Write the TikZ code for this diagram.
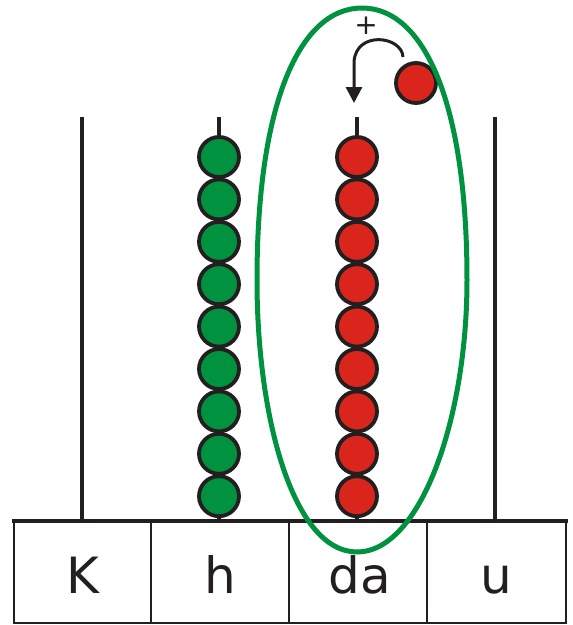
\documentclass[tikz,border=0pt]{standalone}
\usepackage{fontspec}
\setmainfont{DejaVu Sans}
\usetikzlibrary{arrows.meta}
\definecolor{beadgreen}{HTML}{00923F}
\definecolor{beadred}{HTML}{DA251D}
\definecolor{ink}{HTML}{231F20}
\begin{document}
\begin{tikzpicture}[x=1pt,y=-1pt]
\tikzset{bead/.style={circle,draw=ink,line width=3.8pt,minimum size=40pt,inner sep=0pt}}
\tikzset{rod/.style={ink,line width=4.5pt}}
\tikzset{place/.style={font=\fontsize{50}{50}\selectfont,text=ink,anchor=base}}
\useasboundingbox (0,0) rectangle (573,625);
% rods and the place value table
\foreach \x in {82,219,357,495} \draw[rod] (\x,117) -- (\x,521);
\draw[ink,line width=2.6pt] (14,521) rectangle (566,623);
\draw[ink,line width=4.5pt] (12,521) -- (568,521);
\foreach \x in {151,289,427} \draw[ink,line width=2.6pt] (\x,521) -- (\x,623);
\node[place] (lK) at (82.5,593) {K};
\node[place] (lh) at (220,593) {h};
\node[place] (lda) at (360,593) {da};
\node[place] (lu) at (496,593) {u};
% beads
\foreach \i in {0,...,8} {
  \node[bead,fill=beadgreen] (h\i) at (219,{157+42.4*\i}) {};
  \node[bead,fill=beadred] (da\i) at (357,{157+42.4*\i}) {};
}
\node[bead,fill=beadred] (extra) at (416,83) {};
% the tens column
\draw[beadgreen,line width=5pt] (362,8) .. controls (425,8) and (467,105) .. (467,280)
  .. controls (467,420) and (420,552) .. (357,552)
  .. controls (294,552) and (257,420) .. (257,280)
  .. controls (257,105) and (299,8) .. (362,8) -- cycle;
\coordinate (lift) at (403,57);
\coordinate (drop) at (354,103);
\draw[ink,line width=3pt,-{Triangle[length=16pt,width=16pt]}] (lift) .. controls (402,36) and (356,30) .. (354,62) -- (drop);
\node[font=\fontsize{28}{28}\selectfont,text=ink] (plus) at (366,26) {+};
\end{tikzpicture}
\end{document}
